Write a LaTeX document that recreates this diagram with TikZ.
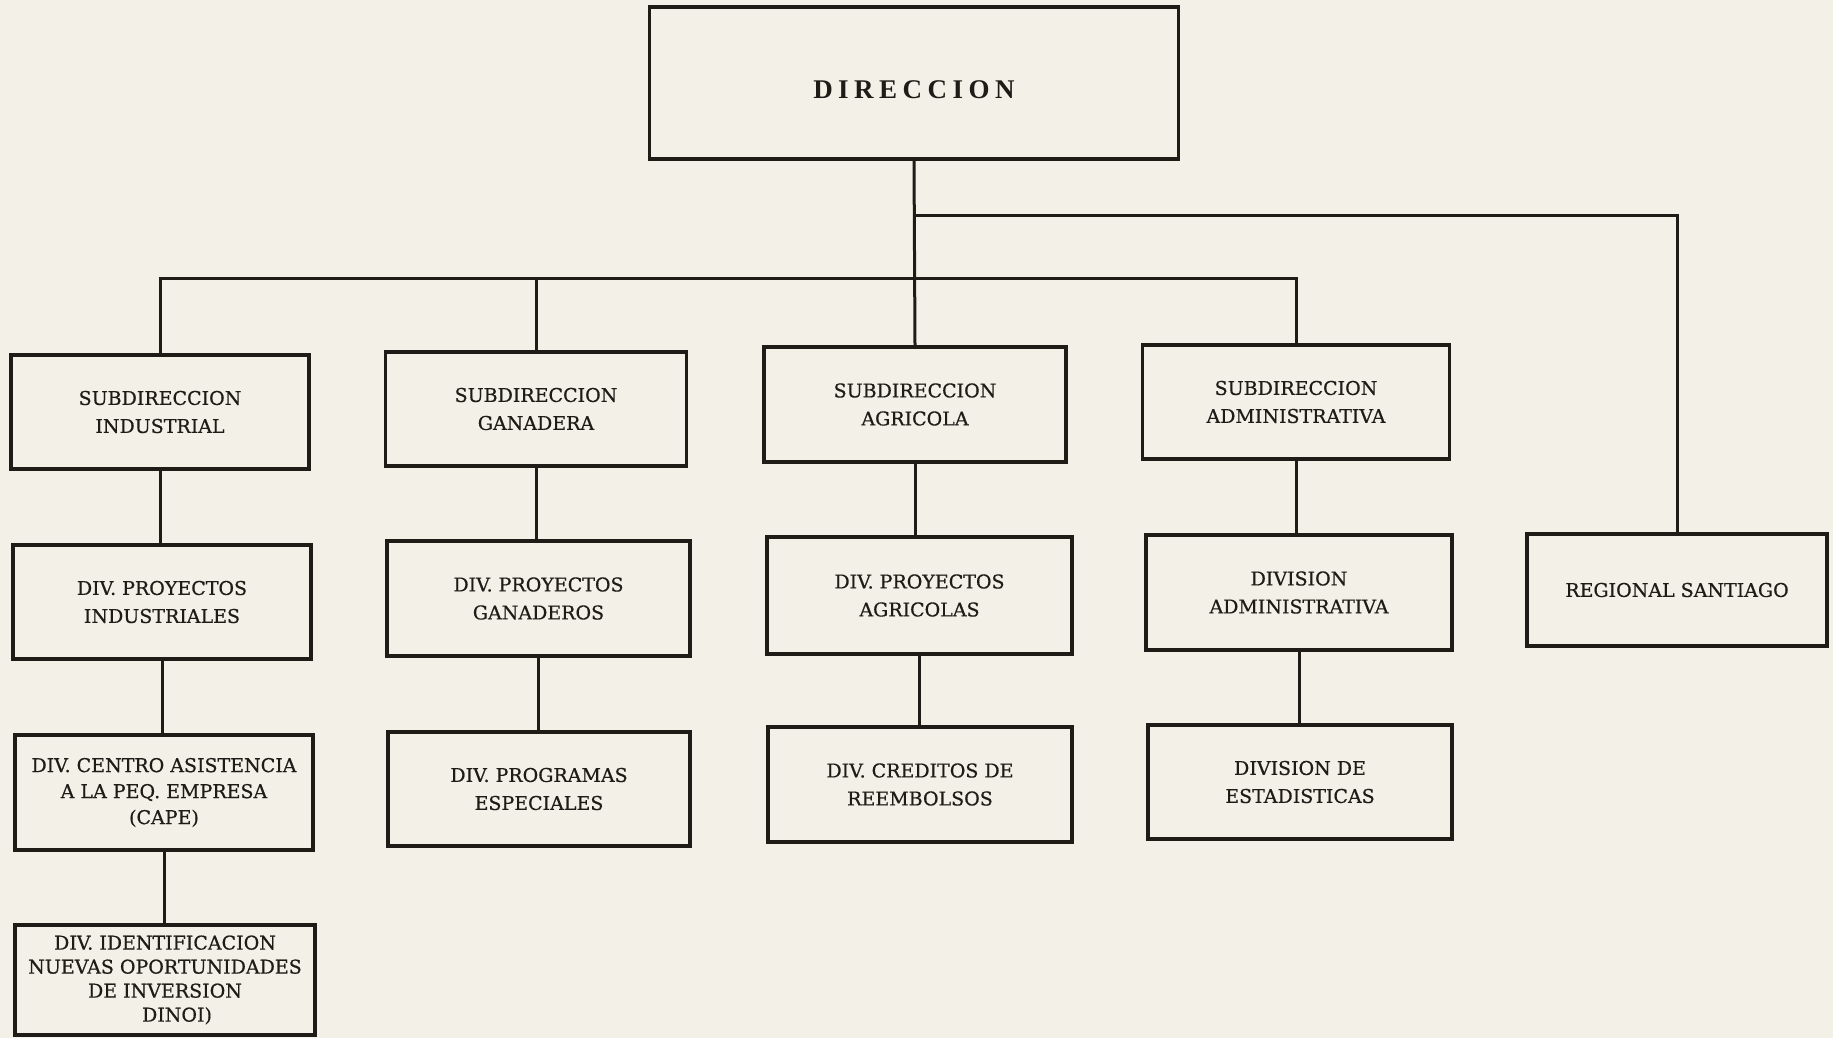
\documentclass[tikz,border=0pt]{standalone}
\usepackage{fontspec}
\setmainfont[FakeBold=0.6]{DejaVu Serif}
\newfontfamily\dirfont{Liberation Serif}
\definecolor{paper}{HTML}{F3F0E7}
\definecolor{ink}{HTML}{1F1B17}
\begin{document}
\begin{tikzpicture}[x=1pt,y=-1pt,
  orgbox/.style={draw=ink, line width=3.4pt, text=ink, align=center, inner sep=0pt,
    font=\fontsize{19}{28}\selectfont},
  link/.style={draw=ink, line width=3pt}]
\fill[paper] (0,0) rectangle (1833,1038);
\useasboundingbox (0,0) rectangle (1833,1038);

% top
\node[orgbox, minimum width=529pt, minimum height=152pt,
  font=\dirfont\bfseries\fontsize{27}{30}\selectfont, text depth=0pt,
  text height=18pt] (dir) at (914,83)
  {\raisebox{-7pt}{D\kern5.5pt I\kern5.5pt R\kern5.5pt E\kern5.5pt C\kern5.5pt C\kern5.5pt I\kern5.5pt O\kern5.5pt N}};

% row 1
\node[orgbox, minimum width=298pt, minimum height=114pt] (subind) at (160,412) {SUBDIRECCION\\INDUSTRIAL};
\node[orgbox, minimum width=301pt, minimum height=114pt] (subgan) at (536,409) {SUBDIRECCION\\GANADERA};
\node[orgbox, minimum width=302pt, minimum height=115pt] (subagr) at (915,404.5) {SUBDIRECCION\\AGRICOLA};
\node[orgbox, minimum width=307pt, minimum height=114pt] (subadm) at (1296,402) {SUBDIRECCION\\ADMINISTRATIVA};

% row 2
\node[orgbox, minimum width=298pt, minimum height=114pt] (divind) at (162,602) {DIV. PROYECTOS\\INDUSTRIALES};
\node[orgbox, minimum width=303pt, minimum height=115pt] (divgan) at (538.5,598.5) {DIV. PROYECTOS\\GANADEROS};
\node[orgbox, minimum width=305pt, minimum height=117pt] (divagr) at (919.5,595.5) {DIV. PROYECTOS\\AGRICOLAS};
\node[orgbox, minimum width=306pt, minimum height=115pt] (divadm) at (1299,592.5) {DIVISION\\ADMINISTRATIVA};
\node[orgbox, minimum width=300pt, minimum height=112pt] (regional) at (1677,590) {\raisebox{-5pt}{REGIONAL SANTIAGO}};

% row 3
\node[orgbox, minimum width=298pt, minimum height=115pt, font=\fontsize{19}{26}\selectfont] (cape) at (164,792.5) {DIV. CENTRO ASISTENCIA\\A LA PEQ. EMPRESA\\(CAPE)};
\node[orgbox, minimum width=302pt, minimum height=114pt] (progesp) at (539,789) {DIV. PROGRAMAS\\ESPECIALES};
\node[orgbox, minimum width=304pt, minimum height=115pt] (cred) at (920,784.5) {DIV. CREDITOS DE\\REEMBOLSOS};
\node[orgbox, minimum width=304pt, minimum height=114pt] (estad) at (1300,782) {DIVISION DE\\ESTADISTICAS};

% row 4
\node[orgbox, minimum width=300pt, minimum height=110pt, font=\fontsize{19}{24}\selectfont] (dinoi) at (165,980) {DIV. IDENTIFICACION\\NUEVAS OPORTUNIDADES\\DE INVERSION\\\hspace*{24pt}DINOI)};

% connectors
\coordinate (jreg) at (914,215);
\coordinate (jbar) at (914,278);
\draw[link] (dir.south) -- (subagr.north);
\draw[link] (jreg) -| (regional.north);
\draw[link] (subind.north) |- (jbar);
\draw[link] (jbar) -| (subadm.north);
\draw[link] (subgan.north) -- (subgan.north |- jbar);

\draw[link] (subind.south) -- (subind.south |- divind.north);
\draw[link] (divind.south) -- (divind.south |- cape.north);
\draw[link] (cape.south) -- (cape.south |- dinoi.north);
\draw[link] (subgan.south) -- (subgan.south |- divgan.north);
\draw[link] (divgan.south) -- (divgan.south |- progesp.north);
\draw[link] (subagr.south) -- (subagr.south |- divagr.north);
\draw[link] (divagr.south) -- (divagr.south |- cred.north);
\draw[link] (subadm.south) -- (subadm.south |- divadm.north);
\draw[link] (divadm.south) -- (divadm.south |- estad.north);
\end{tikzpicture}
\end{document}
